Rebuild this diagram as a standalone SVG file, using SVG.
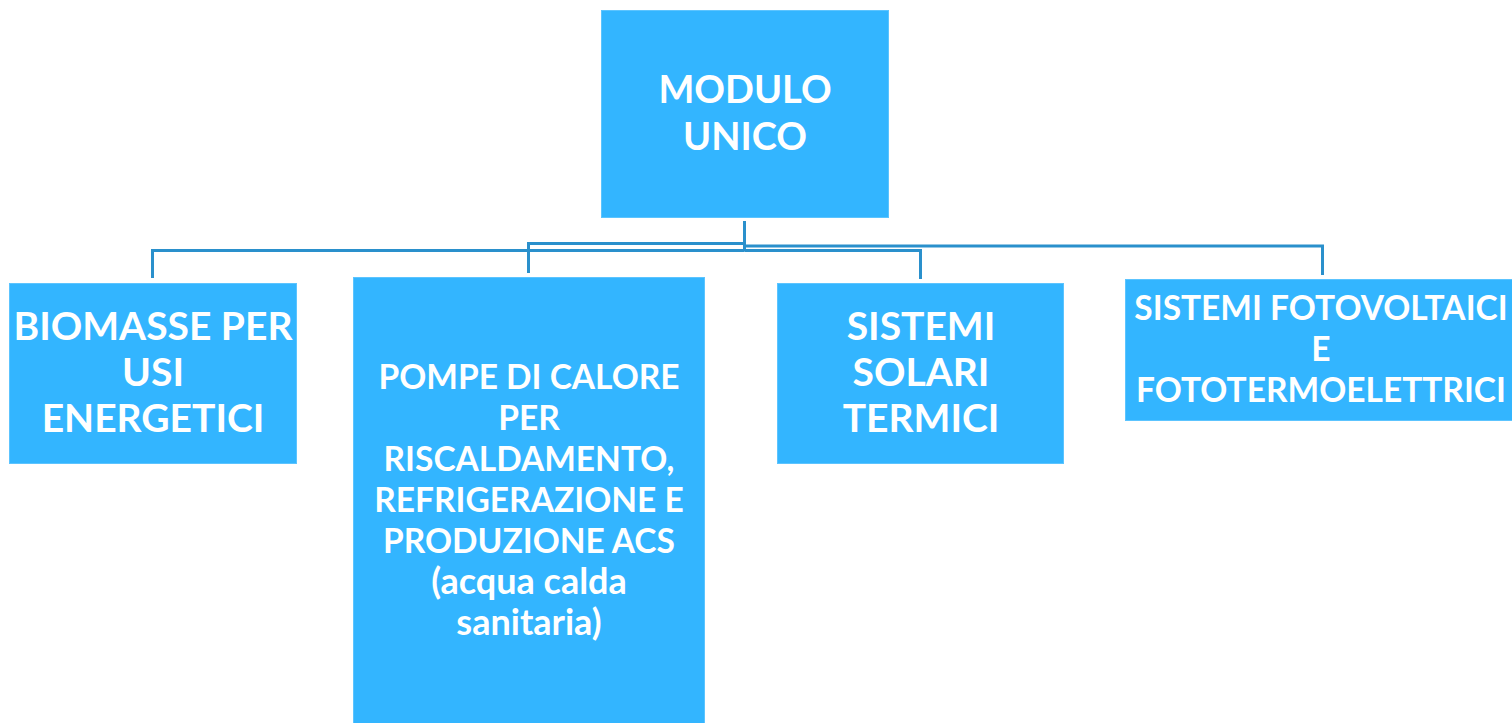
<svg xmlns="http://www.w3.org/2000/svg" width="1512" height="723" viewBox="0 0 1512 723">
<style>
.box{fill:#33b5ff;stroke:#5cc4ff;stroke-width:1}
.t{font-family:Lato,"Open Sans",sans-serif;font-weight:bold;fill:#ffffff;text-anchor:middle}
.big{font-size:38px}
.bio{font-size:39px}
.mid{font-size:33.5px}
.low{font-size:36px}
.conn{fill:none;stroke:#2a90cc;stroke-width:3}
</style>
<rect width="1512" height="723" fill="#ffffff"/>
<g id="connectors">
<path class="conn" d="M744.5 221 V251"/>
<path class="conn" d="M744.5 243.5 H528.5 V273"/>
<path class="conn" d="M744.5 250.5 H152.5 V278"/>
<path class="conn" d="M744.5 250.5 H920.5 V279"/>
<path class="conn" d="M744.5 246 H1322.5 V275"/>
</g>
<g id="modulo">
<rect class="box" x="601.5" y="10.5" width="287" height="207"/>
<text class="t big" x="745" y="103">MODULO</text>
<text class="t big" x="745" y="150">UNICO</text>
</g>
<g id="biomasse">
<rect class="box" x="9.5" y="283.5" width="287" height="180"/>
<text class="t bio" x="153" y="340">BIOMASSE PER</text>
<text class="t bio" x="153" y="386">USI</text>
<text class="t bio" x="153" y="432">ENERGETICI</text>
</g>
<g id="pompe">
<rect class="box" x="353.5" y="277.5" width="351" height="446"/>
<text class="t mid" x="529" y="389">POMPE DI CALORE</text>
<text class="t mid" x="529" y="430">PER</text>
<text class="t mid" x="529" y="471">RISCALDAMENTO,</text>
<text class="t mid" x="529" y="512">REFRIGERAZIONE E</text>
<text class="t mid" x="529" y="553">PRODUZIONE ACS</text>
<text class="t low" x="529" y="594">(acqua calda</text>
<text class="t low" x="529" y="635">sanitaria)</text>
</g>
<g id="solari">
<rect class="box" x="777.5" y="283.5" width="286" height="180"/>
<text class="t bio" x="921" y="340">SISTEMI</text>
<text class="t bio" x="921" y="386">SOLARI</text>
<text class="t bio" x="921" y="432">TERMICI</text>
</g>
<g id="fotovoltaici">
<rect class="box" x="1125.5" y="279.5" width="390" height="141"/>
<text class="t mid" x="1321" y="320">SISTEMI FOTOVOLTAICI</text>
<text class="t mid" x="1321" y="361">E</text>
<text class="t mid" x="1321" y="402">FOTOTERMOELETTRICI</text>
</g>
</svg>
